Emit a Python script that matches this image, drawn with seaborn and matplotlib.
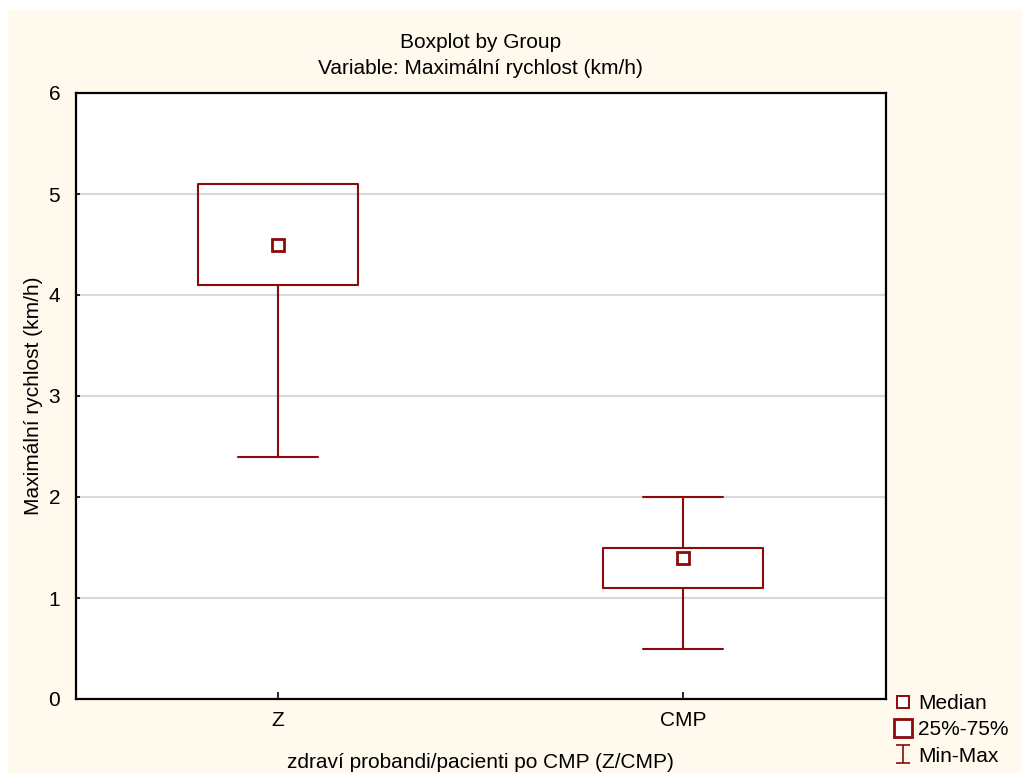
import numpy as np
import pandas as pd
import matplotlib
matplotlib.use("Agg")
import matplotlib.pyplot as plt
from matplotlib.lines import Line2D
from matplotlib.path import Path
from matplotlib.patches import Rectangle
import seaborn as sns

# ---- data ----
categories = ["Z", "CMP"]
z_values = [2.4, 4.1, 4.5, 5.1, 5.1]      # min, q1, median, q3, max
cmp_values = [0.5, 1.1, 1.4, 1.5, 2.0]    # min, q1, median, q3, max
y_ticks = [0, 1, 2, 3, 4, 5, 6]

title = "Boxplot by Group\nVariable: Maximální rychlost (km/h)"
y_label = "Maximální rychlost (km/h)"
x_label = "zdraví probandi/pacienti po CMP (Z/CMP)"
legend_labels = ["Median", "25%-75%", "Min-Max"]

df = pd.DataFrame({
    "group": [categories[0]] * len(z_values) + [categories[1]] * len(cmp_values),
    "value": z_values + cmp_values,
})

RED = "#8B0A0A"
CREAM = "#FFF9EE"

sns.set_theme(style="white")
plt.rcParams["font.family"] = ["Liberation Sans", "DejaVu Sans"]
plt.rcParams["text.color"] = "black"
plt.rcParams["axes.labelcolor"] = "black"
plt.rcParams["xtick.color"] = "black"
plt.rcParams["ytick.color"] = "black"

fig = plt.figure(figsize=(10.21, 7.73), dpi=100, facecolor="white")
fig.patches.append(Rectangle((8 / 1021, 0), 1, 1 - 10 / 773,
                             transform=fig.transFigure, facecolor=CREAM,
                             edgecolor="none", zorder=-10))
ax = fig.add_axes([75.5 / 1021, 1 - 699 / 773, (886 - 75.5) / 1021, (699 - 93) / 773])
ax.set_facecolor("white")

sns.boxplot(data=df, x="group", y="value", order=categories, whis=(0, 100),
            width=0.395, fill=False, color=RED, linewidth=1.5,
            medianprops=dict(linewidth=0, alpha=0), showfliers=False, ax=ax)

sns.pointplot(data=df, x="group", y="value", order=categories,
              estimator="median", errorbar=None, linestyle="none", marker="s",
              color=RED, markersize=8.5, markerfacecolor="white",
              markeredgewidth=2, ax=ax, zorder=5)

ax.set_xlim(-0.5, 1.5)
ax.set_ylim(0, 6)
ax.set_yticks(y_ticks)
ax.yaxis.grid(True, color="#D9D9D9", linewidth=1.5)
ax.set_axisbelow(True)
for sp in ax.spines.values():
    sp.set_color("black")
    sp.set_linewidth(1.6)
ax.tick_params(axis="both", direction="in", width=1.2, colors="black",
               labelcolor="black", labelsize=15, bottom=True, left=True)
ax.tick_params(axis="x", length=5, pad=9)
ax.tick_params(axis="y", length=3, pad=11)

ax.set_title(title, fontsize=15, pad=14, linespacing=1.45, color="black")
ax.set_xlabel(x_label, fontsize=15, labelpad=16, color="black")
ax.set_ylabel(y_label, fontsize=15, labelpad=4, color="black")

# legend
ibeam = Path([(-0.8, 1), (0.8, 1), (0, 1), (0, -1), (-0.8, -1), (0.8, -1)],
             [Path.MOVETO, Path.LINETO, Path.MOVETO, Path.LINETO, Path.MOVETO, Path.LINETO])
handles = [
    Line2D([], [], ls="none", marker="s", markersize=8.5, mfc="white", mec=RED, mew=1.4),
    Line2D([], [], ls="none", marker="s", markersize=12.5, mfc="white", mec=RED, mew=2),
    Line2D([], [], ls="none", marker=ibeam, markersize=13, mfc="none", mec=RED, mew=1.2),
]
fig.legend(handles, legend_labels, loc="upper left",
           bbox_to_anchor=(893 / 1021, 1 - 694 / 773), frameon=False,
           fontsize=15, handlelength=1.0, handletextpad=0.2, labelspacing=0.35,
           borderpad=0, borderaxespad=0)

fig.savefig("out.png", dpi=100, facecolor="white")
